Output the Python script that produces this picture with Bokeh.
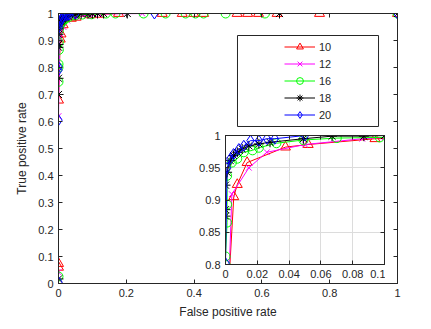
from bokeh.plotting import figure
from bokeh.models import (Range1d, FixedTicker, LinearAxis, Legend, LegendItem,
                          BoxAnnotation, CustomJSTickFormatter)
from bokeh.layouts import column
from bokeh.embed import file_html
from bokeh.resources import INLINE

# ---------------- data ----------------
series_names = ["10", "12", "16", "18", "20"]

fpr_10 = [0, 0, 0, 0.0052, 0.0074, 0.0136, 0.0377, 0.052, 0.094, 0.12, 0.177, 0.306,
          0.365, 0.399, 0.428, 0.527, 0.558, 0.590, 0.645, 0.770, 1]
tpr_10 = [0.060, 0.074, 0.679, 0.905, 0.924, 0.958, 0.982, 0.986, 0.995, 0.997, 1, 1,
          1, 1, 1, 1, 1, 1, 1, 1, 1]

fpr_12 = [0, 0, 0.004, 0.0147, 0.026, 0.05, 0.086, 0.1, 0.12, 0.247, 1]
tpr_12 = [0.042, 0.62, 0.909, 0.950, 0.974, 0.986, 0.995, 0.997, 0.998, 1, 1]

fpr_16 = [0, 0, 0, 0, 0.001, 0.001, 0.001, 0.004, 0.0074, 0.0115, 0.017, 0.021, 0.032,
          0.049, 0.07, 0.097, 0.14, 0.168, 0.251, 0.316, 0.375, 0.404, 0.428, 0.493, 0.609, 1]
tpr_16 = [0.026, 0.747, 0.80, 0.8125, 0.865, 0.893, 0.9375, 0.958, 0.964, 0.974, 0.977,
          0.981, 0.988, 0.993, 0.996, 0.997, 1, 1, 1, 1, 1, 1, 1, 1, 1, 1]

fpr_18 = [0, 0, 0, 0, 0, 0, 0.001, 0.003, 0.005, 0.0074, 0.0105, 0.0147, 0.021, 0.028,
          0.049, 0.067, 0.087, 0.1, 0.115, 0.133, 0.203, 0.652, 1]
tpr_18 = [0.017, 0.70, 0.76, 0.875, 0.885, 0.923, 0.943, 0.961, 0.969, 0.974, 0.979,
          0.984, 0.987, 0.9895, 0.995, 0.999, 0.999, 1, 1, 1, 1, 1, 1]

fpr_20 = [0, 0, 0, 0, 0.001, 0.003, 0.005, 0.0084, 0.0115, 0.0157, 0.021, 0.026, 0.031,
          0.05, 0.283, 1]
tpr_20 = [0.005, 0.605, 0.79, 0.802, 0.950, 0.964, 0.971, 0.979, 0.984, 0.992, 0.992,
          0.995, 0.995, 1.0, 1, 1]

main_x_ticks = [0, 0.2, 0.4, 0.6, 0.8, 1]
main_x_labels = ["0", "0.2", "0.4", "0.6", "0.8", "1"]
main_y_ticks = [0, 0.1, 0.2, 0.3, 0.4, 0.5, 0.6, 0.7, 0.8, 0.9, 1]
main_y_labels = ["0", "0.1", "0.2", "0.3", "0.4", "0.5", "0.6", "0.7", "0.8", "0.9", "1"]
inset_x_ticks = [0, 0.02, 0.04, 0.06, 0.08, 0.1]
inset_x_labels = ["0", "0.02", "0.04", "0.06", "0.08", "0.1"]
inset_y_ticks = [0.8, 0.85, 0.9, 0.95, 1]
inset_y_labels = ["0.8", "0.85", "0.9", "0.95", "1"]

series_fpr = [fpr_10, fpr_12, fpr_16, fpr_18, fpr_20]
series_tpr = [tpr_10, tpr_12, tpr_16, tpr_18, tpr_20]

# ---------------- style ----------------
FONT = "Liberation Sans"
TXT = "#262626"
colors = ["#FF0000", "#FF00FF", "#00FF00", "#000000", "#0000FF"]
markers = ["triangle", "x", "circle", "asterisk", "diamond"]
sizes = [10, 8, 9, 10, 11]

FMT_CODE = """
const i = tv.findIndex(v => Math.abs(v - tick) < 1e-9);
return i >= 0 ? tl[i] : '';
"""


def style_axis(ax, ticks, labels, show=True):
    ax.ticker = FixedTicker(ticks=ticks)
    ax.formatter = CustomJSTickFormatter(args=dict(tv=ticks, tl=labels if show else [""] * len(ticks)),
                                         code=FMT_CODE)
    ax.major_tick_in = 4
    ax.major_tick_out = 0
    ax.minor_tick_line_color = None
    ax.axis_line_color = TXT
    ax.major_tick_line_color = TXT
    ax.major_label_text_font = FONT
    ax.major_label_text_color = TXT
    ax.axis_label_text_font = FONT
    ax.axis_label_text_color = TXT
    ax.axis_label_text_font_style = "normal"
    if show:
        ax.major_label_text_font_size = "11px"
        ax.major_label_standoff = 5
    else:
        ax.major_label_text_font_size = "1px"
        ax.major_label_standoff = 0


# ---------------- main figure ----------------
p = figure(width=415, height=323,
           x_range=Range1d(0, 1), y_range=Range1d(0, 1),
           output_backend="svg", toolbar_location=None,
           min_border_left=58, min_border_right=18, min_border_top=13, min_border_bottom=40,
           background_fill_color="white", border_fill_color="white")
p.frame_align = False
p.outline_line_color = TXT
p.grid.visible = False
style_axis(p.xaxis[0], main_x_ticks, main_x_labels)
style_axis(p.yaxis[0], main_y_ticks, main_y_labels)
p.xaxis.axis_label = "False positive rate"
p.yaxis.axis_label = "True positive rate"
p.xaxis.axis_label_text_font_size = "12px"
p.yaxis.axis_label_text_font_size = "12px"
p.xaxis.axis_label_standoff = 5
p.yaxis.axis_label_standoff = 6
top_ax = LinearAxis()
style_axis(top_ax, main_x_ticks, main_x_labels, show=False)
p.add_layout(top_ax, "above")
right_ax = LinearAxis()
style_axis(right_ax, main_y_ticks, main_y_labels, show=False)
p.add_layout(right_ax, "right")

items = []
for name, c, m, s, xs, ys in zip(series_names, colors, markers, sizes, series_fpr, series_tpr):
    lr = p.line(xs, ys, line_color=c, line_width=1)
    sr = p.scatter(xs, ys, marker=m, size=s, line_color=c, fill_color=None, line_width=1)
    items.append(LegendItem(label=name, renderers=[lr, sr]))

legend_box = BoxAnnotation(left=0.528, right=0.944, bottom=0.5815, top=0.9185,
                           fill_color="white", fill_alpha=1.0, line_color=TXT,
                           line_width=1, line_alpha=1.0)
p.add_layout(legend_box)

legend = Legend(items=items, location=(226, 160), orientation="vertical",
                glyph_width=31, glyph_height=17, label_height=17, spacing=0,
                padding=0, margin=0, label_standoff=4,
                border_line_color=None, background_fill_alpha=0,
                label_text_font=FONT, label_text_font_size="11px",
                label_text_color=TXT)
p.add_layout(legend)

# ---------------- inset figure ----------------
ins = figure(width=200, height=162,
             x_range=Range1d(0, 0.1), y_range=Range1d(0.8, 1),
             output_backend="svg", toolbar_location=None,
             min_border_left=40, min_border_right=1, min_border_top=5, min_border_bottom=28,
             background_fill_color="white", border_fill_color=None,
             styles={"position": "absolute", "left": "185px", "top": "130px"})
ins.frame_align = False
ins.outline_line_color = TXT
style_axis(ins.xaxis[0], inset_x_ticks, inset_x_labels)
style_axis(ins.yaxis[0], inset_y_ticks, inset_y_labels)
ins_top = LinearAxis()
style_axis(ins_top, inset_x_ticks, inset_x_labels, show=False)
ins.add_layout(ins_top, "above")
ins_right = LinearAxis()
style_axis(ins_right, inset_y_ticks, inset_y_labels, show=False)
ins.add_layout(ins_right, "right")
ins.xgrid.ticker = FixedTicker(ticks=inset_x_ticks)
ins.ygrid.ticker = FixedTicker(ticks=inset_y_ticks)
ins.grid.grid_line_color = "#dcdcdc"

for c, m, s, xs, ys in zip(colors, markers, sizes, series_fpr, series_tpr):
    ins.line(xs, ys, line_color=c, line_width=1)
    ins.scatter(xs, ys, marker=m, size=s, line_color=c, fill_color=None, line_width=1)

layout = column(p, ins)
open("out.html", "w").write(file_html(layout, INLINE))
